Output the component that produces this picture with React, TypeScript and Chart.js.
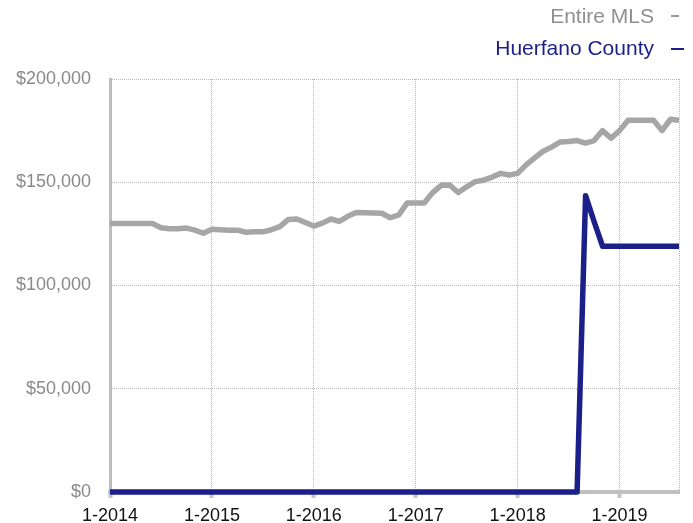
import React, { useEffect, useRef } from "react";
import { Chart, registerables } from "chart.js";

Chart.register(...registerables);

// Categories: monthly, Jan 2014 .. Aug 2019
const years = [2014, 2015, 2016, 2017, 2018, 2019];
const monthsInLastYear = 8;
const monthLabels: string[] = [];
years.forEach((y, yi) => {
  const n = yi === years.length - 1 ? monthsInLastYear : 12;
  for (let m = 1; m <= n; m++) monthLabels.push(`${m}-${y}`);
});

const seriesNames = ["Entire MLS", "Huerfano County"];

const entireMLS = [
  130000, 130000, 130000, 130000, 130000, 130000, 128000, 127500, 127500, 127800, 126800, 125300,
  127200, 127000, 126800, 126800, 125800, 126000, 126000, 127000, 128500, 132000, 132200, 130500,
  128800, 130200, 132200, 131000, 133500, 135300, 135200, 135100, 135000, 132800, 134200, 140000,
  140000, 140000, 145000, 148500, 148700, 145000, 147800, 150300, 151000, 152500, 154300, 153500,
  154300, 158400, 161800, 165000, 167000, 169500, 169700, 170200, 169000, 170200, 175000, 171300,
  175000, 180000, 180000, 180000, 180000, 175000, 180500, 180000,
];

const huerfano = [
  0, 0, 0, 0, 0, 0, 0, 0, 0, 0, 0, 0,
  0, 0, 0, 0, 0, 0, 0, 0, 0, 0, 0, 0,
  0, 0, 0, 0, 0, 0, 0, 0, 0, 0, 0, 0,
  0, 0, 0, 0, 0, 0, 0, 0, 0, 0, 0, 0,
  0, 0, 0, 0, 0, 0, 0, 0, 143500, 131000, 119000, 119000,
  119000, 119000, 119000, 119000, 119000, 119000, 119000, 119000,
];

const yMin = 0;
const yMax = 200000;
const yStep = 50000;

const GRAY = "#a6a6a6";
const NAVY = "#1b1f8a";
const FONT = "'Liberation Sans', Arial, Helvetica, sans-serif";

const W = 693;
const H = 545;

export default function App() {
  const ref = useRef<HTMLCanvasElement>(null);

  useEffect(() => {
    const canvas = ref.current!;
    const lastIdx = monthLabels.length - 1;
    const isGridIdx = (i: number) => i % 12 === 0 || i === lastIdx;
    const chart = new Chart(canvas, {
      type: "line",
      data: {
        labels: monthLabels,
        datasets: [
          {
            label: seriesNames[0],
            data: entireMLS,
            borderColor: GRAY,
            backgroundColor: GRAY,
            borderWidth: 5.5,
            pointRadius: 0,
            tension: 0,
            borderJoinStyle: "round",
            clip: { left: 0, right: 0, top: 8, bottom: 8 },
          },
          {
            label: seriesNames[1],
            data: huerfano,
            borderColor: NAVY,
            backgroundColor: NAVY,
            borderWidth: 5.5,
            pointRadius: 0,
            tension: 0,
            borderJoinStyle: "round",
            clip: { left: 0, right: 0, top: 8, bottom: 8 },
          },
        ],
      },
      options: {
        animation: false,
        responsive: false,
        devicePixelRatio: 1,
        layout: { padding: { top: 79, right: 14, left: 0, bottom: 0 } },
        plugins: {
          legend: { display: false },
          tooltip: { enabled: false },
          title: { display: false },
        },
        scales: {
          x: {
            type: "category",
            offset: false,
            afterFit: (s: any) => {
              s.height = H - 492;
            },
            border: { display: true, color: "#c0c0c0", width: 4, dash: [1, 1] },
            grid: {
              drawOnChartArea: true,
              drawTicks: true,
              tickLength: 6,
              color: (ctx: any) => (isGridIdx(ctx.index) && ctx.index !== 0 ? "#b8b8b8" : "rgba(0,0,0,0)"),
              lineWidth: 1,
              tickColor: (ctx: any) => (ctx.index % 12 === 0 ? "#c4c4c4" : "rgba(0,0,0,0)"),
              tickWidth: 4,
              tickBorderDash: [],
            } as any,
            ticks: {
              autoSkip: false,
              maxRotation: 0,
              minRotation: 0,
              padding: 7,
              color: "#111111",
              font: { family: FONT, size: 18 },
              callback: (_v: any, i: number) => (i % 12 === 0 ? monthLabels[i] : ""),
            },
          },
          y: {
            min: yMin,
            max: yMax,
            afterFit: (s: any) => {
              s.width = 110;
            },
            border: { display: true, color: "#bdbdbd", width: 3, dash: [1, 1] },
            grid: {
              drawTicks: false,
              color: "#b8b8b8",
              lineWidth: 1,
            } as any,
            ticks: {
              stepSize: yStep,
              padding: 19,
              color: "#8a8a8a",
              font: { family: FONT, size: 18 },
              callback: (v: any) => "$" + Number(v).toLocaleString("en-US"),
            },
          },
        },
      },
    });
    return () => chart.destroy();
  }, []);

  const legendText: React.CSSProperties = {
    position: "absolute",
    right: 39,
    fontFamily: FONT,
    fontSize: 21,
    lineHeight: "21px",
    whiteSpace: "nowrap",
  };

  return (
    <div
      style={{
        position: "fixed",
        left: 0,
        top: 0,
        width: W,
        height: 523,
        overflow: "hidden",
        background: "#fff",
      }}
    >
      <canvas ref={ref} width={W} height={H} style={{ position: "absolute", left: 0, top: 0, width: W, height: H }} />
      <div style={{ ...legendText, top: 5, color: "#8f8f8f" }}>{seriesNames[0]}</div>
      <div style={{ position: "absolute", left: 671, top: 15, width: 8, height: 2, background: "#9a9a9a" }} />
      <div style={{ ...legendText, top: 36.5, color: NAVY }}>{seriesNames[1]}</div>
      <div style={{ position: "absolute", left: 671, top: 48, width: 13, height: 2, background: NAVY }} />
    </div>
  );
}
